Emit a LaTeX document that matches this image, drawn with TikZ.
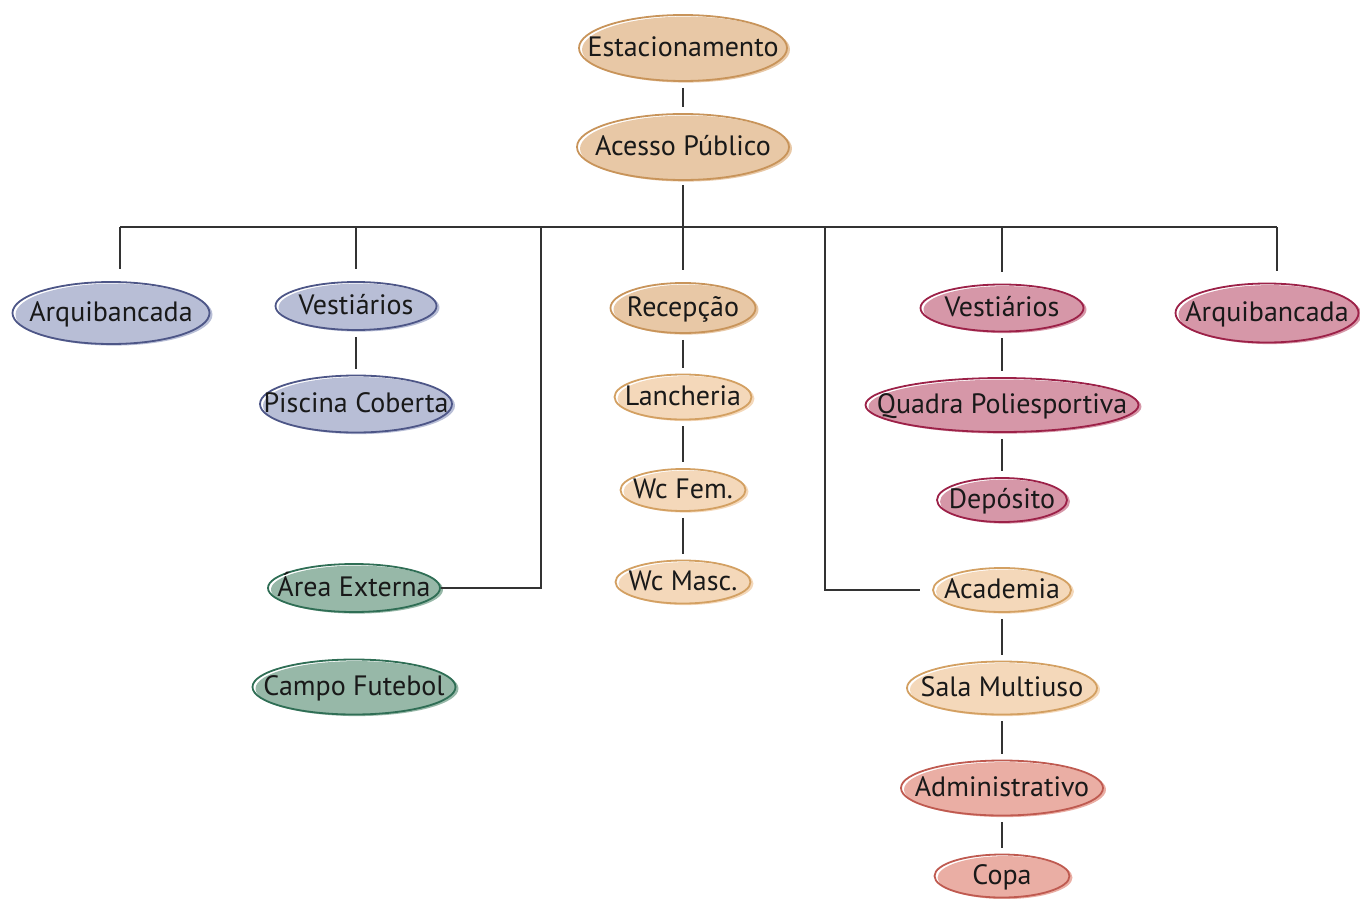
\documentclass[tikz,border=0pt]{standalone}
\usepackage{fontspec}
\setmainfont{PT Sans}
\usetikzlibrary{shapes.geometric}

\definecolor{sandfill}{HTML}{E8C8A6}
\definecolor{sandline}{HTML}{C8945A}
\definecolor{creamfill}{HTML}{F4D8BA}
\definecolor{creamline}{HTML}{D3A062}
\definecolor{bluefill}{HTML}{B8BED6}
\definecolor{blueline}{HTML}{4D5687}
\definecolor{greenfill}{HTML}{97B8A8}
\definecolor{greenline}{HTML}{2F6E55}
\definecolor{pinkfill}{HTML}{D697A8}
\definecolor{pinkline}{HTML}{9C2148}
\definecolor{salmonfill}{HTML}{EAAEA4}
\definecolor{salmonline}{HTML}{BF5A50}
\definecolor{wire}{HTML}{333333}

\newcommand{\roomtxt}[1]{\makebox[0pt]{\raisebox{-.6ex}[0pt][0pt]{#1}}}

\tikzset{
  room/.style={ellipse, inner sep=0pt, line width=.9pt, text=black!90,
    font=\fontsize{14}{16}\selectfont},
  ell/.style 2 args={minimum width=#1, minimum height=#2},
  paint/.style 2 args={room, draw=#2,
    preaction={fill=#1, transform canvas={shift={(1.5pt,-.8pt)}}}},
  sand/.style={paint={sandfill}{sandline}},
  cream/.style={paint={creamfill}{creamline}},
  blue/.style={paint={bluefill}{blueline}},
  green/.style={paint={greenfill}{greenline}},
  pink/.style={paint={pinkfill}{pinkline}},
  salmon/.style={paint={salmonfill}{salmonline}},
  link/.style={draw=wire, line width=1pt, shorten <=3pt, shorten >=3pt},
  drop/.style={draw=wire, line width=1pt, shorten >=6pt}
}

\begin{document}
\begin{tikzpicture}[x=0.5pt, y=-0.5pt]
\useasboundingbox (0,0) rectangle (1360,899);

\node[sand, ell={104pt}{33pt}] (estac) at (683,48) {\roomtxt{Estacionamento}};
\node[sand, ell={106pt}{33pt}] (acesso) at (683,147) {\roomtxt{Acesso Público}};

% left group
\node[blue, ell={98.5pt}{31pt}] (arqL) at (111,313) {\roomtxt{Arquibancada}};
\node[blue, ell={80.5pt}{24pt}] (vesL) at (356,306) {\roomtxt{Vestiários}};
\node[blue, ell={96pt}{28.5pt}] (pisc) at (356,404) {\roomtxt{Piscina Coberta}};
\node[green, ell={86pt}{24pt}] (ext) at (354,588) {\roomtxt{Área Externa}};
\node[green, ell={101.5pt}{27.5pt}] (campo) at (354,687) {\roomtxt{Campo Futebol}};

% middle group
\node[sand, ell={72.5pt}{25pt}] (recep) at (683,308) {\roomtxt{Recepção}};
\node[cream, ell={68.5pt}{22.5pt}] (lanch) at (683,397) {\roomtxt{Lancheria}};
\node[cream, ell={62.5pt}{21pt}] (wcf) at (683,490) {\roomtxt{Wc Fem.}};
\node[cream, ell={67.5pt}{21.5pt}] (wcm) at (683,582) {\roomtxt{Wc Masc.}};

% right group
\node[pink, ell={81.5pt}{23.5pt}] (vesR) at (1002,308) {\roomtxt{Vestiários}};
\node[pink, ell={136.5pt}{27pt}] (quadra) at (1002,405) {\roomtxt{Quadra Poliesportiva}};
\node[pink, ell={65pt}{22pt}] (depo) at (1002,500) {\roomtxt{Depósito}};
\node[pink, ell={91.5pt}{29.5pt}] (arqR) at (1267,313) {\roomtxt{Arquibancada}};
\node[cream, ell={69pt}{22pt}] (acad) at (1002,590) {\roomtxt{Academia}};
\node[cream, ell={95pt}{26.5pt}] (sala) at (1002,688) {\roomtxt{Sala Multiuso}};
\node[salmon, ell={101pt}{27.5pt}] (admin) at (1002,788) {\roomtxt{Administrativo}};
\node[salmon, ell={67.5pt}{21.5pt}] (copa) at (1002,876) {\roomtxt{Copa}};

\coordinate (hub) at (683,227);
\coordinate (barL) at (120,227);
\coordinate (barR) at (1277,227);
\coordinate (tapExt) at (541,227);
\coordinate (tapAcad) at (825,227);

\draw[link] (estac) -- (acesso);
\draw[draw=wire, line width=1pt, shorten <=2pt] (acesso) -- (hub);
\draw[draw=wire, line width=1pt] (barL) -- (barR);

\draw[drop] (barL) -- (barL |- arqL.north);
\draw[drop] (vesL.center |- hub) -- (vesL);
\draw[drop] (hub) -- (recep);
\draw[drop] (vesR.center |- hub) -- (vesR);
\draw[drop] (barR) -- (barR |- arqR.north);
\draw[draw=wire, line width=1pt] (tapExt) |- (ext.east);
\draw[drop] (tapAcad) |- (acad.west);

\draw[link] (vesL) -- (pisc);
\draw[link] (recep) -- (lanch);
\draw[link] (lanch) -- (wcf);
\draw[link] (wcf) -- (wcm);
\draw[link] (vesR) -- (quadra);
\draw[link] (quadra) -- (depo);
\draw[link] (acad) -- (sala);
\draw[link] (sala) -- (admin);
\draw[link] (admin) -- (copa);
\end{tikzpicture}
\end{document}
